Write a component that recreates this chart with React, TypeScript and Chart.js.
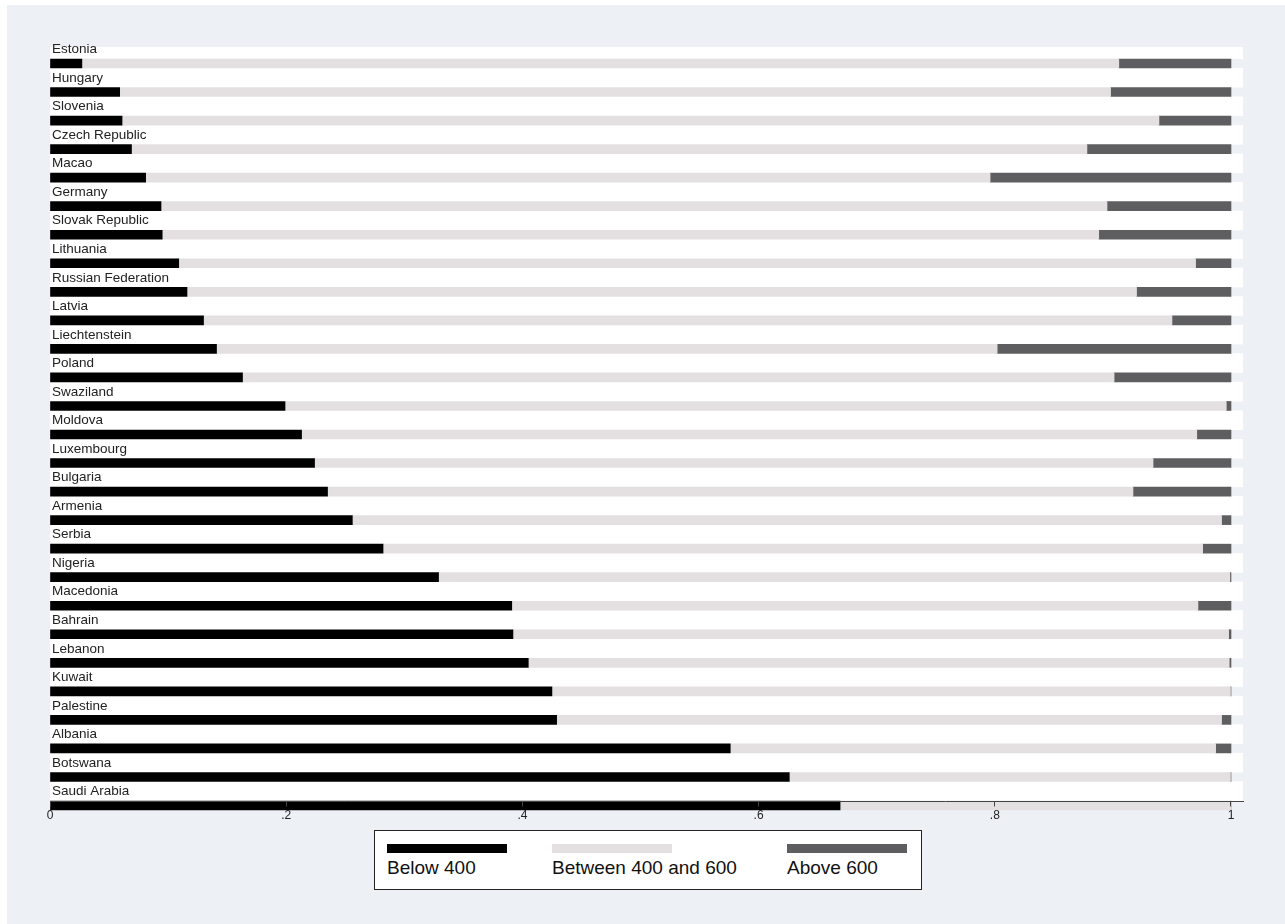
import React, { useEffect, useRef } from "react";
import { Chart, registerables } from "chart.js";

Chart.register(...registerables);

const countries = [
  "Estonia", "Hungary", "Slovenia", "Czech Republic", "Macao", "Germany",
  "Slovak Republic", "Lithuania", "Russian Federation", "Latvia", "Liechtenstein",
  "Poland", "Swaziland", "Moldova", "Luxembourg", "Bulgaria", "Armenia", "Serbia",
  "Nigeria", "Macedonia", "Bahrain", "Lebanon", "Kuwait", "Palestine", "Albania",
  "Botswana", "Saudi Arabia",
];

const below400 = [
  0.027, 0.059, 0.061, 0.069, 0.081, 0.094, 0.095, 0.109, 0.116, 0.130, 0.141,
  0.163, 0.199, 0.213, 0.224, 0.235, 0.256, 0.282, 0.329, 0.391, 0.392, 0.405,
  0.425, 0.429, 0.576, 0.626, 0.669,
];

const between400and600 = [
  0.878, 0.839, 0.878, 0.809, 0.715, 0.801, 0.793, 0.861, 0.804, 0.820, 0.661,
  0.738, 0.797, 0.758, 0.710, 0.682, 0.736, 0.694, 0.670, 0.581, 0.606, 0.5935,
  0.5745, 0.563, 0.411, 0.3735, 0.331,
];

const above600 = [
  0.095, 0.102, 0.061, 0.122, 0.204, 0.105, 0.112, 0.030, 0.080, 0.050, 0.198,
  0.099, 0.004, 0.029, 0.066, 0.083, 0.008, 0.024, 0.001, 0.028, 0.002, 0.0015,
  0.0005, 0.008, 0.013, 0.0005, 0.0,
];

const seriesLabels = ["Below 400", "Between 400 and 600", "Above 600"];
const seriesColors = ["#000000", "#e4e0e2", "#5e5e60"];

const xTickValues = [0, 0.2, 0.4, 0.6, 0.8, 1];
const xTickLabels = ["0", ".2", ".4", ".6", ".8", "1"];

const BG = "#edf1f6";
const FONT = "'Liberation Sans', Arial, sans-serif";

export default function App() {
  const ref = useRef<HTMLCanvasElement>(null);

  useEffect(() => {
    if (!ref.current) return;
    const series = [below400, between400and600, above600];

    const bandPlugin = {
      id: "bandPlugin",
      beforeDraw(chart: any) {
        const { ctx, chartArea } = chart;
        const xs = chart.scales.x;
        const ys = chart.scales.y;
        ctx.save();
        ctx.fillStyle = "#ffffff";
        ctx.fillRect(chartArea.left, chartArea.top, chartArea.right - chartArea.left, chartArea.bottom - chartArea.top);
        ctx.fillStyle = BG;
        const x1 = xs.getPixelForValue(1);
        countries.forEach((_, i) => {
          const yc = ys.getPixelForValue(i);
          ctx.fillRect(x1, yc - 4.5, chartArea.right - x1 + 1, 9);
        });
        ctx.restore();
      },
    };

    const chart = new Chart(ref.current, {
      type: "bar",
      data: {
        datasets: series.map((vals, s) => ({
          label: seriesLabels[s],
          data: vals.map((v, i) => ({ x: v, y: i })),
          backgroundColor: seriesColors[s],
          borderWidth: 0,
          barThickness: 9,
          clip: false as any,
        })),
      },
      options: {
        indexAxis: "y",
        animation: false,
        responsive: false,
        events: [],
        layout: { padding: { left: 43, right: 42, top: 42, bottom: 8.5 } },
        plugins: {
          legend: { display: false },
          tooltip: { enabled: false },
        },
        scales: {
          x: {
            type: "linear",
            stacked: true,
            min: 0,
            max: 1193 / 1181,
            offset: false,
            afterBuildTicks: (s: any) => {
              s.ticks = xTickValues.map((v) => ({ value: v }));
            },
            afterFit: (s: any) => {
              s.height = 25;
            },
            grid: {
              display: true,
              drawOnChartArea: false,
              drawTicks: true,
              tickLength: 5,
              color: "#444444",
              z: 1,
            },
            border: { display: true, color: "#444444", width: 1, z: 1 },
            ticks: {
              z: 1,
              padding: 2,
              color: "#222222",
              font: { family: FONT, size: 12 },
              callback: (_v: any, i: number) => xTickLabels[i],
            },
          },
          y: {
            type: "linear",
            stacked: true,
            reverse: true,
            offset: false,
            min: -0.578,
            max: 25.86,
            afterBuildTicks: (s: any) => {
              s.ticks = countries.map((_, i) => ({ value: i }));
            },
            afterFit: (s: any) => {
              s.width = 0;
            },
            grid: { display: false, offset: false },
            border: { display: false },
            ticks: {
              mirror: true,
              autoSkip: false,
              padding: 2,
              labelOffset: -14,
              color: "#222222",
              font: { family: FONT, size: 13.5 },
              callback: (v: any) => countries[v as number],
            },
          },
        },
      } as any,
      plugins: [bandPlugin],
    });

    return () => chart.destroy();
  }, []);

  const sampleLeft = [380, 545, 780];

  return (
    <div
      style={{
        position: "absolute",
        left: 7,
        top: 5,
        width: 1278,
        height: 919,
        background: BG,
        fontFamily: FONT,
      }}
    >
      <canvas
        ref={ref}
        width={1278}
        height={830}
        style={{ position: "absolute", left: 0, top: 0, width: 1278, height: 830 }}
      />
      <div
        style={{
          position: "absolute",
          left: 367,
          top: 825,
          width: 548,
          height: 60,
          boxSizing: "border-box",
          border: "1.5px solid #222",
          background: "#ffffff",
        }}
      />
      {seriesLabels.map((lab, i) => (
        <React.Fragment key={lab}>
          <div
            style={{
              position: "absolute",
              left: sampleLeft[i],
              top: 839,
              width: 120,
              height: 9,
              background: seriesColors[i],
            }}
          />
          <div
            style={{
              position: "absolute",
              left: sampleLeft[i],
              top: 853,
              fontSize: 19,
              lineHeight: "19px",
              color: "#111",
              whiteSpace: "nowrap",
            }}
          >
            {lab}
          </div>
        </React.Fragment>
      ))}
    </div>
  );
}
